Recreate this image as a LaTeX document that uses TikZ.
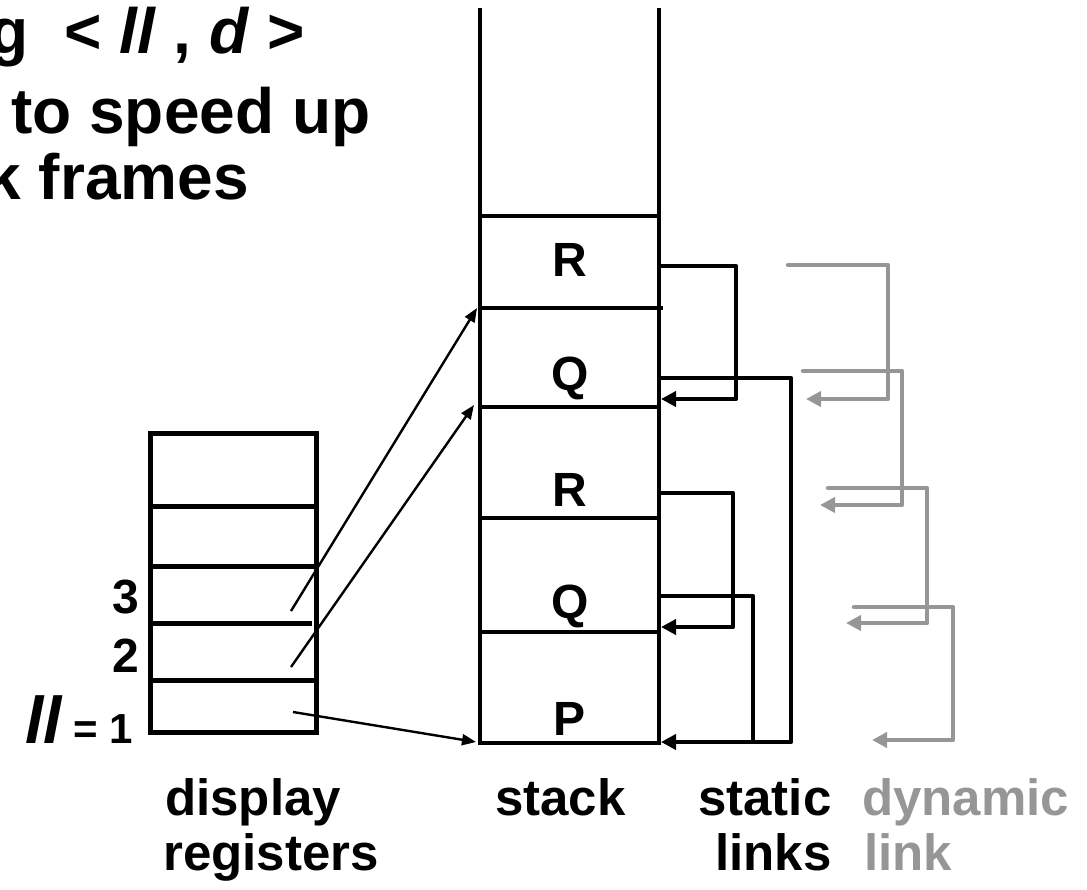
\documentclass[tikz,border=0pt]{standalone}
\usepackage{fontspec}
\setmainfont{Liberation Sans}
\usetikzlibrary{arrows.meta}
\definecolor{dyngray}{RGB}{150,150,150}
\newcommand{\fsz}[1]{\fontsize{#1}{#1}\selectfont}
\begin{document}
\begin{tikzpicture}[x=1pt,y=-1pt,
  txt/.style={inner sep=0pt,font=\bfseries},
  stackline/.style={line width=4.8pt,line join=miter},
  reg/.style={line width=5pt},
  slink/.style={line width=4.8pt,line join=round,-{Triangle[length=15pt,width=15pt]}},
  slinkjoin/.style={line width=4.8pt,line join=round},
  dlink/.style={line width=4.5pt,dyngray,line join=round,line cap=round,-{Triangle[length=15pt,width=15pt]}},
  dptr/.style={line width=2.4pt,-{Triangle[length=14pt,width=11pt]}}]
\useasboundingbox (0,0) rectangle (1087,889);
\clip (0,0) rectangle (1087,889);

% heading
\node[txt,anchor=base east] (h1) at (305,53) {\fsz{64}g~~<~\textit{ll}~,~\textit{d}~>};
\node[txt,anchor=base west] (h2) at (11,133) {\fsz{64}to speed up};
\node[txt,anchor=base east] (h3) at (249,199) {\fsz{64}k frames};

% stack of activation frames
\draw[stackline] (480,8) -- (480,743) -- (659,743) -- (659,8);
\draw[stackline] (480,216) -- (659,216);
\draw[stackline] (480,308) -- (663,308);
\draw[stackline] (480,407) -- (659,407);
\draw[stackline] (480,518) -- (659,518);
\draw[stackline] (480,632) -- (659,632);
\node[txt,anchor=base] (fR2) at (570,276) {\fsz{48}R};
\node[txt,anchor=base] (fQ2) at (570,390) {\fsz{48}Q};
\node[txt,anchor=base] (fR1) at (570,506) {\fsz{48}R};
\node[txt,anchor=base] (fQ1) at (570,618) {\fsz{48}Q};
\node[txt,anchor=base] (fP)  at (570,735) {\fsz{48}P};

% frame entry points on the stack
\coordinate (topR2) at (477,308);
\coordinate (topQ2) at (474,405);
\coordinate (baseP) at (476,742);

% display registers
\node[draw,reg,inner sep=0pt,minimum width=166pt,minimum height=299pt] (disp) at (233,582.5) {};
\draw[reg] (150,506) -- (316,506);
\draw[reg] (150,566) -- (316,566);
\draw[reg] (153,623) -- (312,623);
\draw[reg] (150,680) -- (316,680);
\node[txt,anchor=base east] (n3) at (139,613) {\fsz{48}3};
\node[txt,anchor=base east] (n2) at (139,672) {\fsz{48}2};
\node[txt,anchor=base east] (nll) at (62,743) {\fsz{66}\itshape ll};
\node[txt,anchor=base east] (n1) at (133,743) {\fsz{42}= 1};
\coordinate (d3) at (291,611);
\coordinate (d2) at (291,667);
\coordinate (d1) at (293,712);
\draw[dptr] (d3) -- (topR2);
\draw[dptr] (d2) -- (topQ2);
\draw[dptr] (d1) -- (baseP);

% static links
\coordinate (sR2) at (659,266);
\coordinate (sQ2) at (659,378);
\coordinate (sR1) at (659,493);
\coordinate (sQ1) at (659,596);
\coordinate (inQ2) at (661,399);
\coordinate (inQ1) at (661,627);
\coordinate (inP)  at (661,742);
\coordinate (jP)   at (753,742);
\draw[slink] (sR2) -- ++(77,0) |- (inQ2);
\draw[slink] (sQ2) -- ++(132,0) |- (inP);
\draw[slink] (sR1) -- ++(74,0) |- (inQ1);
\draw[slinkjoin] (sQ1) -| (jP);

% dynamic links
\coordinate (dA) at (788,265);
\coordinate (dB) at (803,371);
\coordinate (dC) at (828,488);
\coordinate (dD) at (854,607);
\coordinate (eA) at (806,399);
\coordinate (eB) at (820,505);
\coordinate (eC) at (846,623);
\coordinate (eD) at (872,740);
\draw[dlink] (dA) -- ++(100,0) |- (eA);
\draw[dlink] (dB) -- ++(99,0) |- (eB);
\draw[dlink] (dC) -- ++(99,0) |- (eC);
\draw[dlink] (dD) -- ++(99,0) |- (eD);

% captions
\node[txt,anchor=base west] (c1a) at (165,815) {\fsz{51}display};
\node[txt,anchor=base west] (c1b) at (163,870) {\fsz{51}registers};
\node[txt,anchor=base west] (c2)  at (495,815) {\fsz{51}stack};
\node[txt,anchor=base west] (c3a) at (698,815) {\fsz{51}static};
\node[txt,anchor=base east] (c3b) at (c3a.base east |- 0,870) {\fsz{51}links};
\node[txt,anchor=base west,text=dyngray] (c4a) at (862,815) {\fsz{51}dynamic};
\node[txt,anchor=base west,text=dyngray] (c4b) at (864,870) {\fsz{51}link};
\end{tikzpicture}
\end{document}
